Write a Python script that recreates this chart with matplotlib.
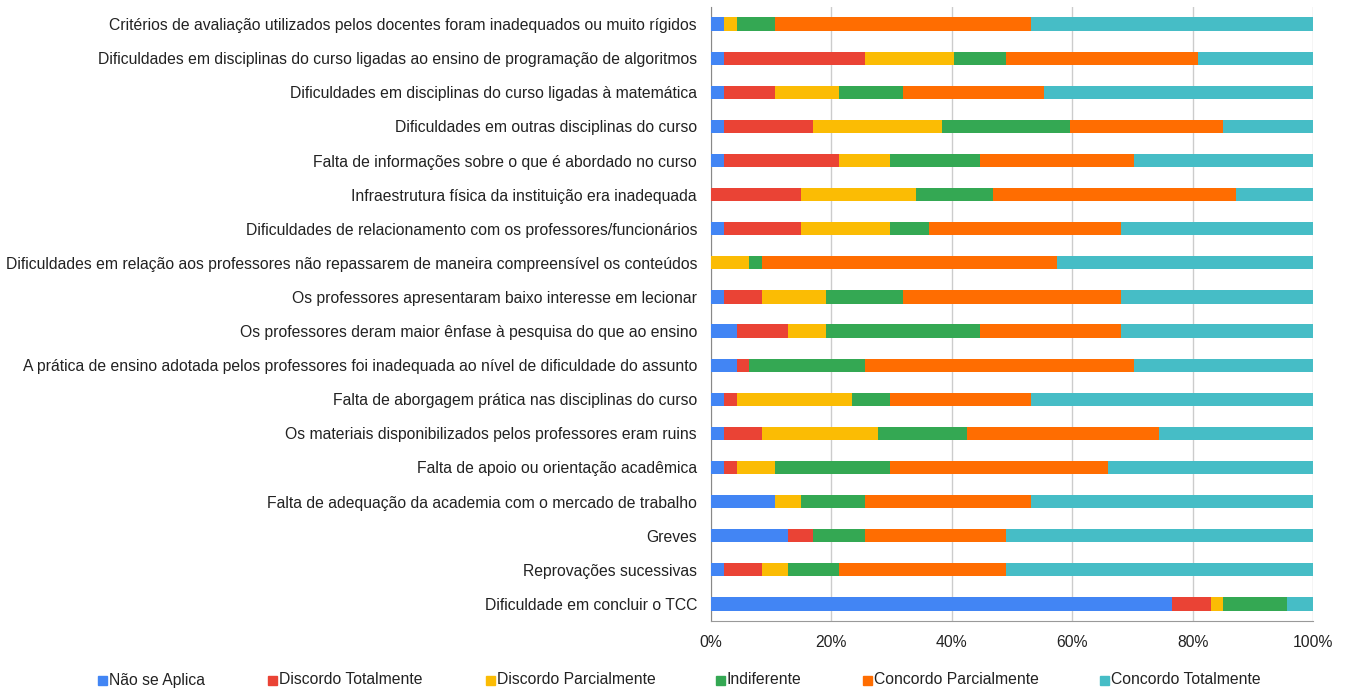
import matplotlib
matplotlib.use('Agg')
import matplotlib.pyplot as plt
from matplotlib.patches import Rectangle
from matplotlib.ticker import PercentFormatter
import numpy as np

plt.rcParams['font.family'] = ['Liberation Sans', 'DejaVu Sans']

# answers out of 47 respondents, top row first
itens = [
    'Critérios de avaliação utilizados pelos docentes foram inadequados ou muito rígidos',
    'Dificuldades em disciplinas do curso ligadas ao ensino de programação de algoritmos',
    'Dificuldades em disciplinas do curso ligadas à matemática',
    'Dificuldades em outras disciplinas do curso',
    'Falta de informações sobre o que é abordado no curso',
    'Infraestrutura física da instituição era inadequada',
    'Dificuldades de relacionamento com os professores/funcionários',
    'Dificuldades em relação aos professores não repassarem de maneira compreensível os conteúdos',
    'Os professores apresentaram baixo interesse em lecionar',
    'Os professores deram maior ênfase à pesquisa do que ao ensino',
    'A prática de ensino adotada pelos professores foi inadequada ao nível de dificuldade do assunto',
    'Falta de aborgagem prática nas disciplinas do curso',
    'Os materiais disponibilizados pelos professores eram ruins',
    'Falta de apoio ou orientação acadêmica',
    'Falta de adequação da academia com o mercado de trabalho',
    'Greves',
    'Reprovações sucessivas',
    'Dificuldade em concluir o TCC',
]

respostas = ['Não se Aplica', 'Discordo Totalmente', 'Discordo Parcialmente',
             'Indiferente', 'Concordo Parcialmente', 'Concordo Totalmente']
cores = ['#4285F4', '#EA4335', '#FBBC04', '#34A853', '#FF6D01', '#46BDC6']

nao_se_aplica = [1, 1, 1, 1, 1, 0, 1, 0, 1, 2, 2, 1, 1, 1, 5, 6, 1, 36]
discordo_tot  = [0, 11, 4, 7, 9, 7, 6, 0, 3, 4, 1, 1, 3, 1, 0, 2, 3, 3]
discordo_parc = [1, 7, 5, 10, 4, 9, 7, 3, 5, 3, 0, 9, 9, 3, 2, 0, 2, 1]
indiferente   = [3, 4, 5, 10, 7, 6, 3, 1, 6, 12, 9, 3, 7, 9, 5, 4, 4, 5]
concordo_parc = [20, 15, 11, 12, 12, 19, 15, 23, 17, 11, 21, 11, 15, 17, 13, 11, 13, 0]
concordo_tot  = [22, 9, 21, 7, 14, 6, 15, 20, 15, 15, 14, 22, 12, 16, 22, 24, 24, 2]

series = np.array([nao_se_aplica, discordo_tot, discordo_parc,
                   indiferente, concordo_parc, concordo_tot], dtype=float)
pct = series / series.sum(axis=0) * 100

W, H = 1345, 690
fig = plt.figure(figsize=(W / 100, H / 100), dpi=100)
ax = fig.add_axes([711 / W, 1 - 621 / H, 602 / W, 614 / H])

y = np.arange(len(itens))
left = np.zeros(len(itens))
for i in range(len(respostas)):
    ax.barh(y, pct[i], left=left, height=0.39, color=cores[i], zorder=3)
    left += pct[i]

ax.set_ylim(len(itens) - 0.5, -0.5)
ax.set_xlim(0, 100)
ax.set_yticks(y)
ax.set_yticklabels(itens, fontsize=11.3, color='#222222')
ax.set_xticks([0, 20, 40, 60, 80, 100])
ax.xaxis.set_major_formatter(PercentFormatter(decimals=0))
ax.tick_params(axis='x', length=0, pad=10, labelsize=11.3, labelcolor='#222222')
ax.tick_params(axis='y', length=0, pad=10)
ax.grid(axis='x', color='#cccccc', linewidth=1, zorder=0)
for s in ['top', 'right']:
    ax.spines[s].set_visible(False)
ax.spines['left'].set_color('#888888')
ax.spines['bottom'].set_color('#999999')

# legend drawn by hand to match the spacing of the original
leg_x = [98, 268, 486, 716, 863, 1100]
leg_y = 680
for i in range(len(respostas)):
    fig.add_artist(Rectangle((leg_x[i] / W, 1 - (leg_y + 4.5) / H), 9 / W, 9 / H,
                             transform=fig.transFigure, color=cores[i]))
    fig.text((leg_x[i] + 11) / W, 1 - leg_y / H, respostas[i], fontsize=11.3,
             color='#222222', va='center', ha='left')

fig.savefig('out.png', dpi=100)
